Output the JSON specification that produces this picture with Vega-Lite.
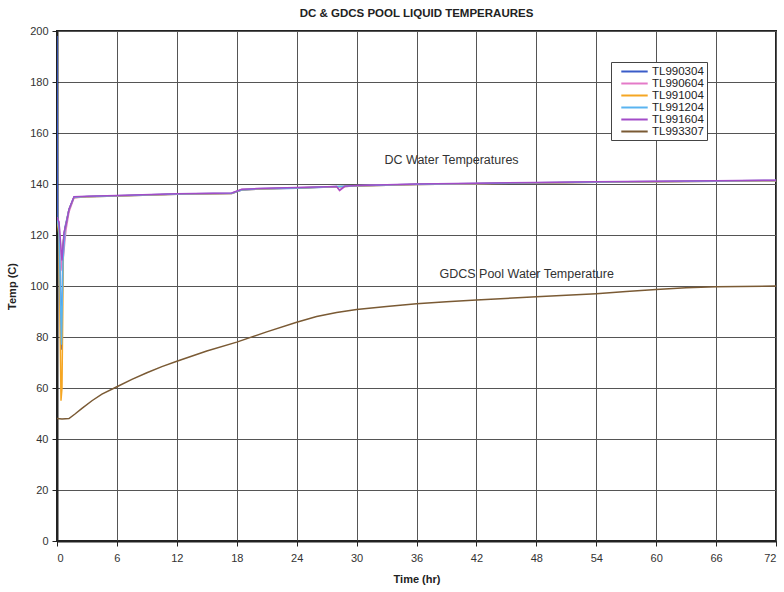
{
  "$schema": "https://vega.github.io/schema/vega-lite/v6.json",
  "width": 719,
  "height": 510,
  "autosize": {"type": "none"},
  "padding": {"left": 57, "top": 31, "right": 8, "bottom": 51},
  "background": "white",
  "title": {"text": "DC & GDCS POOL LIQUID TEMPERAURES", "font": "Liberation Sans", "fontSize": 11.5, "fontWeight": "bold", "color": "#222", "offset": 6, "anchor": "middle"},
  "config": {
    "view": {"stroke": "#222", "strokeWidth": 2},
    "font": "Liberation Sans"
  },
  "datasets": {
    "lines": [
      {"series": "TL990304", "t": 0, "temp": 198},
      {"series": "TL990304", "t": 0.05, "temp": 127},
      {"series": "TL990304", "t": 0.2, "temp": 124},
      {"series": "TL990304", "t": 0.45, "temp": 75},
      {"series": "TL990304", "t": 0.6, "temp": 116},
      {"series": "TL990304", "t": 0.8, "temp": 123},
      {"series": "TL990304", "t": 1.2, "temp": 130},
      {"series": "TL990304", "t": 1.7, "temp": 134.8},
      {"series": "TL990304", "t": 3, "temp": 135},
      {"series": "TL990304", "t": 6, "temp": 135.3},
      {"series": "TL990304", "t": 12, "temp": 136},
      {"series": "TL990304", "t": 17.5, "temp": 136.3},
      {"series": "TL990304", "t": 18.5, "temp": 137.6},
      {"series": "TL990304", "t": 20, "temp": 138},
      {"series": "TL990304", "t": 24, "temp": 138.3},
      {"series": "TL990304", "t": 30, "temp": 139.2},
      {"series": "TL990304", "t": 36, "temp": 139.8},
      {"series": "TL990304", "t": 42, "temp": 140.1},
      {"series": "TL990304", "t": 48, "temp": 140.4},
      {"series": "TL990304", "t": 54, "temp": 140.7},
      {"series": "TL990304", "t": 60, "temp": 140.9},
      {"series": "TL990304", "t": 66, "temp": 141.1},
      {"series": "TL990304", "t": 72, "temp": 141.3},

      {"series": "TL990604", "t": 0, "temp": 127},
      {"series": "TL990604", "t": 0.2, "temp": 125},
      {"series": "TL990604", "t": 0.5, "temp": 106},
      {"series": "TL990604", "t": 0.7, "temp": 114},
      {"series": "TL990604", "t": 0.9, "temp": 122},
      {"series": "TL990604", "t": 1.2, "temp": 129},
      {"series": "TL990604", "t": 1.7, "temp": 134.5},
      {"series": "TL990604", "t": 3, "temp": 135.1},
      {"series": "TL990604", "t": 6, "temp": 135.4},
      {"series": "TL990604", "t": 12, "temp": 136.1},
      {"series": "TL990604", "t": 17.5, "temp": 136.4},
      {"series": "TL990604", "t": 18.5, "temp": 137.8},
      {"series": "TL990604", "t": 20, "temp": 138.1},
      {"series": "TL990604", "t": 24, "temp": 138.5},
      {"series": "TL990604", "t": 28, "temp": 139},
      {"series": "TL990604", "t": 28.3, "temp": 137.4},
      {"series": "TL990604", "t": 28.8, "temp": 139},
      {"series": "TL990604", "t": 30, "temp": 139.3},
      {"series": "TL990604", "t": 36, "temp": 139.9},
      {"series": "TL990604", "t": 42, "temp": 140.2},
      {"series": "TL990604", "t": 48, "temp": 140.5},
      {"series": "TL990604", "t": 54, "temp": 140.8},
      {"series": "TL990604", "t": 60, "temp": 141},
      {"series": "TL990604", "t": 66, "temp": 141.2},
      {"series": "TL990604", "t": 72, "temp": 141.4},

      {"series": "TL991004", "t": 0, "temp": 126},
      {"series": "TL991004", "t": 0.2, "temp": 120},
      {"series": "TL991004", "t": 0.4, "temp": 55},
      {"series": "TL991004", "t": 0.5, "temp": 60},
      {"series": "TL991004", "t": 0.65, "temp": 118},
      {"series": "TL991004", "t": 0.85, "temp": 123},
      {"series": "TL991004", "t": 1.2, "temp": 130},
      {"series": "TL991004", "t": 1.7, "temp": 134.7},
      {"series": "TL991004", "t": 3, "temp": 135},
      {"series": "TL991004", "t": 6, "temp": 135.3},
      {"series": "TL991004", "t": 12, "temp": 136},
      {"series": "TL991004", "t": 17.5, "temp": 136.3},
      {"series": "TL991004", "t": 18.5, "temp": 137.7},
      {"series": "TL991004", "t": 20, "temp": 138},
      {"series": "TL991004", "t": 24, "temp": 138.4},
      {"series": "TL991004", "t": 30, "temp": 139.2},
      {"series": "TL991004", "t": 36, "temp": 139.8},
      {"series": "TL991004", "t": 42, "temp": 140.1},
      {"series": "TL991004", "t": 48, "temp": 140.4},
      {"series": "TL991004", "t": 54, "temp": 140.7},
      {"series": "TL991004", "t": 60, "temp": 140.9},
      {"series": "TL991004", "t": 66, "temp": 141.1},
      {"series": "TL991004", "t": 72, "temp": 141.3},

      {"series": "TL991204", "t": 0, "temp": 127},
      {"series": "TL991204", "t": 0.2, "temp": 122},
      {"series": "TL991204", "t": 0.45, "temp": 77},
      {"series": "TL991204", "t": 0.6, "temp": 110},
      {"series": "TL991204", "t": 0.8, "temp": 122},
      {"series": "TL991204", "t": 1.2, "temp": 130},
      {"series": "TL991204", "t": 1.7, "temp": 134.8},
      {"series": "TL991204", "t": 3, "temp": 135.1},
      {"series": "TL991204", "t": 6, "temp": 135.4},
      {"series": "TL991204", "t": 12, "temp": 136.1},
      {"series": "TL991204", "t": 17.5, "temp": 136.4},
      {"series": "TL991204", "t": 18.5, "temp": 137.7},
      {"series": "TL991204", "t": 20, "temp": 138.1},
      {"series": "TL991204", "t": 24, "temp": 138.4},
      {"series": "TL991204", "t": 30, "temp": 139.3},
      {"series": "TL991204", "t": 36, "temp": 139.9},
      {"series": "TL991204", "t": 42, "temp": 140.2},
      {"series": "TL991204", "t": 48, "temp": 140.5},
      {"series": "TL991204", "t": 54, "temp": 140.8},
      {"series": "TL991204", "t": 60, "temp": 141},
      {"series": "TL991204", "t": 66, "temp": 141.2},
      {"series": "TL991204", "t": 72, "temp": 141.4},

      {"series": "TL991604", "t": 0, "temp": 127},
      {"series": "TL991604", "t": 0.2, "temp": 125},
      {"series": "TL991604", "t": 0.5, "temp": 110},
      {"series": "TL991604", "t": 0.7, "temp": 121},
      {"series": "TL991604", "t": 0.9, "temp": 124},
      {"series": "TL991604", "t": 1.2, "temp": 130},
      {"series": "TL991604", "t": 1.7, "temp": 135},
      {"series": "TL991604", "t": 3, "temp": 135.2},
      {"series": "TL991604", "t": 6, "temp": 135.5},
      {"series": "TL991604", "t": 12, "temp": 136.2},
      {"series": "TL991604", "t": 17.5, "temp": 136.5},
      {"series": "TL991604", "t": 18.5, "temp": 137.9},
      {"series": "TL991604", "t": 20, "temp": 138.2},
      {"series": "TL991604", "t": 24, "temp": 138.6},
      {"series": "TL991604", "t": 28, "temp": 139},
      {"series": "TL991604", "t": 28.3, "temp": 137.6},
      {"series": "TL991604", "t": 28.8, "temp": 139.1},
      {"series": "TL991604", "t": 30, "temp": 139.4},
      {"series": "TL991604", "t": 36, "temp": 140},
      {"series": "TL991604", "t": 42, "temp": 140.3},
      {"series": "TL991604", "t": 48, "temp": 140.6},
      {"series": "TL991604", "t": 54, "temp": 140.9},
      {"series": "TL991604", "t": 60, "temp": 141.1},
      {"series": "TL991604", "t": 66, "temp": 141.3},
      {"series": "TL991604", "t": 72, "temp": 141.5},

      {"series": "TL993307", "t": 0, "temp": 48},
      {"series": "TL993307", "t": 0.5, "temp": 47.8},
      {"series": "TL993307", "t": 1.2, "temp": 48},
      {"series": "TL993307", "t": 1.8, "temp": 49.8},
      {"series": "TL993307", "t": 2.5, "temp": 52},
      {"series": "TL993307", "t": 3.5, "temp": 55},
      {"series": "TL993307", "t": 4.5, "temp": 57.6},
      {"series": "TL993307", "t": 6, "temp": 60.5},
      {"series": "TL993307", "t": 7.5, "temp": 63.4},
      {"series": "TL993307", "t": 9, "temp": 66},
      {"series": "TL993307", "t": 10.5, "temp": 68.4},
      {"series": "TL993307", "t": 12, "temp": 70.5},
      {"series": "TL993307", "t": 15, "temp": 74.5},
      {"series": "TL993307", "t": 18, "temp": 78},
      {"series": "TL993307", "t": 21, "temp": 82},
      {"series": "TL993307", "t": 24, "temp": 85.8},
      {"series": "TL993307", "t": 26, "temp": 88},
      {"series": "TL993307", "t": 28, "temp": 89.6},
      {"series": "TL993307", "t": 30, "temp": 90.8},
      {"series": "TL993307", "t": 33, "temp": 92},
      {"series": "TL993307", "t": 36, "temp": 93},
      {"series": "TL993307", "t": 39, "temp": 93.8},
      {"series": "TL993307", "t": 42, "temp": 94.5},
      {"series": "TL993307", "t": 48, "temp": 95.8},
      {"series": "TL993307", "t": 54, "temp": 97},
      {"series": "TL993307", "t": 57, "temp": 97.8},
      {"series": "TL993307", "t": 60, "temp": 98.6},
      {"series": "TL993307", "t": 63, "temp": 99.3},
      {"series": "TL993307", "t": 66, "temp": 99.7},
      {"series": "TL993307", "t": 72, "temp": 100}
    ],
    "notes": [
      {"t": 32.8, "temp": 149.4, "label": "DC Water Temperatures"},
      {"t": 38.3, "temp": 104.7, "label": "GDCS Pool Water Temperature"}
    ]
  },
  "layer": [
    {
      "data": {"name": "lines"},
      "mark": {"type": "line", "strokeWidth": 1.5, "clip": true},
      "encoding": {
        "x": {"field": "t", "type": "quantitative", "scale": {"domain": [0, 72], "nice": false},
          "axis": {"title": "Time (hr)", "values": [0,6,12,18,24,30,36,42,48,54,60,66,72], "titleFont": "Liberation Sans", "titleFontSize": 11, "titleFontWeight": "bold", "titleColor": "#222", "titlePadding": 10, "labelFont": "Liberation Sans", "labelFontSize": 11, "labelColor": "#333", "labelPadding": 6, "grid": true, "gridColor": "#555", "gridWidth": 1, "domainColor": "#222", "domainWidth": 2, "tickColor": "#222", "tickSize": 5}},
        "y": {"field": "temp", "type": "quantitative", "scale": {"domain": [0, 200], "nice": false},
          "axis": {"title": "Temp (C)", "values": [0,20,40,60,80,100,120,140,160,180,200], "titleFont": "Liberation Sans", "titleFontSize": 11, "titleFontWeight": "bold", "titleColor": "#222", "titlePadding": 12, "labelFont": "Liberation Sans", "labelFontSize": 11, "labelColor": "#333", "labelPadding": 4, "grid": true, "gridColor": "#555", "gridWidth": 1, "domainColor": "#222", "domainWidth": 2, "tickColor": "#222", "tickSize": 5}},
        "color": {"field": "series", "type": "nominal",
          "scale": {"domain": ["TL990304","TL990604","TL991004","TL991204","TL991604","TL993307"], "range": ["#3a5cc8","#e47ac8","#f5a623","#5ab4f0","#a24cc8","#7a5a34"]},
          "legend": {"title": null, "orient": "none", "legendX": 554, "legendY": 31, "symbolType": "M-2.4,0L2.4,0", "symbolSize": 121, "symbolOffset": 14, "symbolStrokeWidth": 2, "labelFont": "Liberation Sans", "labelFontSize": 11.5, "labelColor": "#222", "rowPadding": 0, "labelOffset": 11, "strokeColor": "#444", "fillColor": "white", "padding": 3}}
      }
    },
    {
      "data": {"name": "notes"},
      "mark": {"type": "text", "align": "left", "baseline": "middle", "font": "Liberation Sans", "fontSize": 12.5, "color": "#333"},
      "encoding": {
        "x": {"field": "t", "type": "quantitative"},
        "y": {"field": "temp", "type": "quantitative"},
        "text": {"field": "label"}
      }
    }
  ]
}
